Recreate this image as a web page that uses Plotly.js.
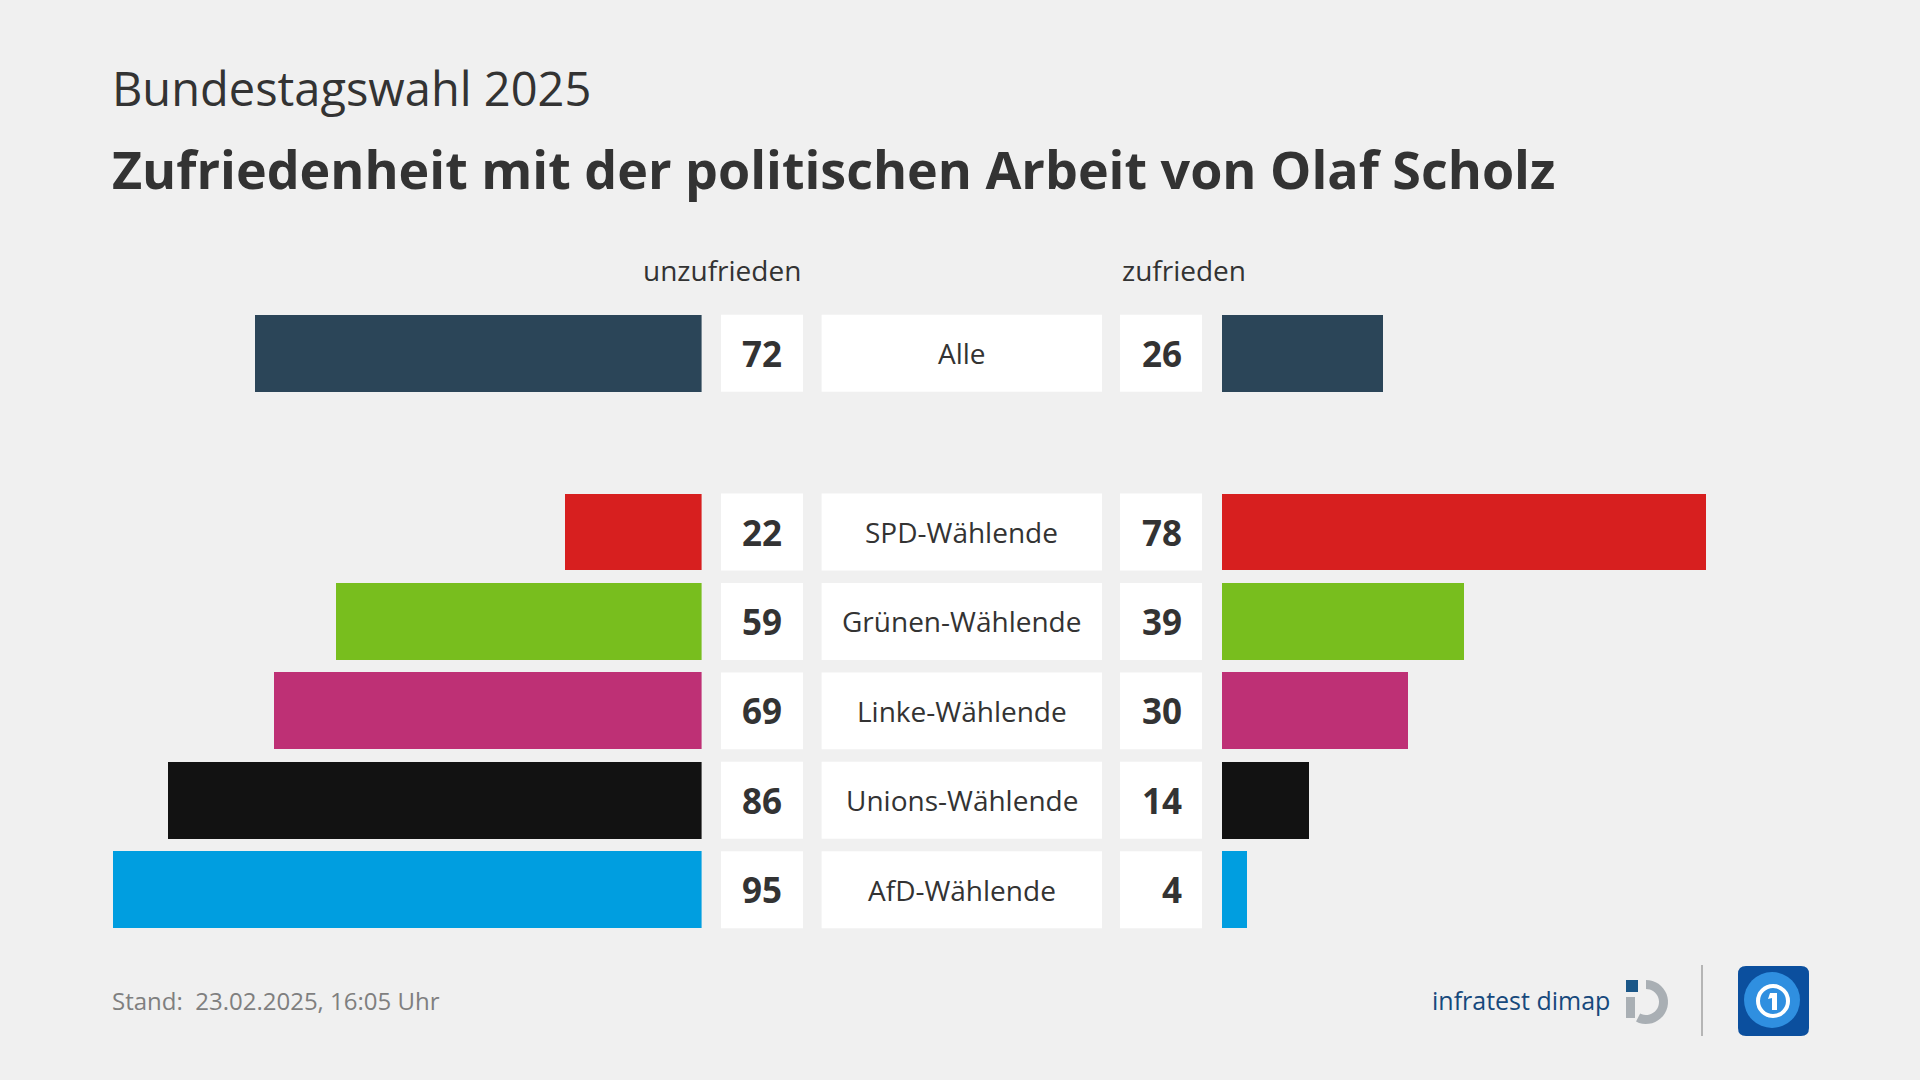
<!DOCTYPE html>
<html>
<head>
<meta charset="utf-8">
<script src="https://cdn.plot.ly/plotly-3.0.1.min.js"></script>
<style>
  html, body { margin: 0; padding: 0; background: #f0f0f0; }
  #chart { width: 1920px; height: 1080px; }
</style>
</head>
<body>
<div id="chart"></div>
<script>
// ---- data ----
const groups = ["Alle", "SPD-Wählende", "Grünen-Wählende", "Linke-Wählende", "Unions-Wählende", "AfD-Wählende"];
const unzufrieden = [72, 22, 59, 69, 86, 95];
const zufrieden = [26, 78, 39, 30, 14, 4];
const groupColors = ["#2b4558", "#d71f1f", "#78be1e", "#be3075", "#121212", "#009ee0"];
const headerLeft = "unzufrieden";
const headerRight = "zufrieden";
const subtitle = "Bundestagswahl 2025";
const title = "Zufriedenheit mit der politischen Arbeit von Olaf Scholz";
const footer = "Stand:  23.02.2025, 16:05 Uhr";
const sourceName = "infratest dimap";

// ---- layout helpers ----
const W = 1920, H = 1080;
const px = v => v / W;           // x pixel -> paper
const py = v => 1 - v / H;       // y pixel -> paper
const FONT = "Open Sans, Noto Sans, sans-serif";
const TXT = "#333333";

// row slots: "Alle" first, then a blank slot, then the parties
const pos = groups.map((g, i) => i === 0 ? 0 : i + 1);
const barW = 0.86;

const traces = [
  {
    type: "bar", orientation: "h",
    x: unzufrieden, y: pos,
    xaxis: "x", yaxis: "y",
    width: barW,
    marker: { color: groupColors, line: { width: 0 } },
    hoverinfo: "skip"
  },
  {
    type: "bar", orientation: "h",
    x: zufrieden, y: pos,
    xaxis: "x2", yaxis: "y",
    width: barW,
    marker: { color: groupColors, line: { width: 0 } },
    hoverinfo: "skip"
  }
];

const shapes = [];
const annotations = [];

// boxes: left value, label, right value
const boxL = [721, 803], boxC = [821.6, 1102], boxR = [1120, 1202];
pos.forEach((p, i) => {
  [boxL, boxC, boxR].forEach(b => {
    shapes.push({
      type: "rect", xref: "paper", yref: "y",
      x0: px(b[0]), x1: px(b[1]), y0: p - barW / 2, y1: p + barW / 2,
      fillcolor: "#ffffff", line: { width: 0 }, layer: "below"
    });
  });
  annotations.push({
    xref: "paper", yref: "y", x: px(784), y: p, xanchor: "right", yanchor: "middle",
    text: "<b>" + unzufrieden[i] + "</b>", showarrow: false,
    font: { family: FONT, size: 35, color: TXT }
  });
  annotations.push({
    xref: "paper", yref: "y", x: px(1184), y: p, xanchor: "right", yanchor: "middle",
    text: "<b>" + zufrieden[i] + "</b>", showarrow: false,
    font: { family: FONT, size: 35, color: TXT }
  });
  annotations.push({
    xref: "paper", yref: "y", x: px((boxC[0] + boxC[1]) / 2), y: p, xanchor: "center", yanchor: "middle",
    text: groups[i], showarrow: false,
    font: { family: FONT, size: 28, color: TXT }
  });
});

// headers
annotations.push({
  xref: "paper", yref: "paper", x: px(803), y: py(270), xanchor: "right", yanchor: "middle",
  text: headerLeft, showarrow: false, font: { family: FONT, size: 28, color: TXT }
});
annotations.push({
  xref: "paper", yref: "paper", x: px(1120), y: py(270), xanchor: "left", yanchor: "middle",
  text: headerRight, showarrow: false, font: { family: FONT, size: 28, color: TXT }
});

// titles
annotations.push({
  xref: "paper", yref: "paper", x: px(110), y: py(88), xanchor: "left", yanchor: "middle",
  text: subtitle, showarrow: false, font: { family: FONT, size: 47, color: TXT }
});
annotations.push({
  xref: "paper", yref: "paper", x: px(110), y: py(168), xanchor: "left", yanchor: "middle",
  text: "<b>" + title + "</b>", showarrow: false, font: { family: FONT, size: 52, color: TXT }
});

// footer
annotations.push({
  xref: "paper", yref: "paper", x: px(110), y: py(1000), xanchor: "left", yanchor: "middle",
  text: footer, showarrow: false, font: { family: FONT, size: 24, color: "#7f7f7f" }
});
annotations.push({
  xref: "paper", yref: "paper", x: px(1612), y: py(1000), xanchor: "right", yanchor: "middle",
  text: sourceName, showarrow: false, font: { family: FONT, size: 25, color: "#17497c" }
});

// infratest dimap icon (square + arc)
shapes.push({ type: "rect", xref: "paper", yref: "paper",
  x0: px(1626), x1: px(1638), y0: py(992), y1: py(980), fillcolor: "#1b5788", line: { width: 0 } });
shapes.push({ type: "rect", xref: "paper", yref: "paper",
  x0: px(1626), x1: px(1635), y0: py(1018), y1: py(997), fillcolor: "#a9afb4", line: { width: 0 } });
shapes.push({ type: "path", xref: "paper", yref: "paper",
  path: (() => {
    const cx = 1646, cy = 1002, r1 = 22, r2 = 13, n = 24;
    let pts = [];
    for (let k = 0; k <= n; k++) {
      const a = -Math.PI / 2 + Math.PI * 1.15 * k / n;
      pts.push([cx + r1 * Math.cos(a), cy + r1 * Math.sin(a)]);
    }
    for (let k = n; k >= 0; k--) {
      const a = -Math.PI / 2 + Math.PI * 1.15 * k / n;
      pts.push([cx + r2 * Math.cos(a), cy + r2 * Math.sin(a)]);
    }
    return "M" + pts.map(p => px(p[0]).toFixed(5) + "," + py(p[1]).toFixed(5)).join(" L") + " Z";
  })(),
  fillcolor: "#a9afb4", line: { width: 0 } });

// separator line
shapes.push({ type: "line", xref: "paper", yref: "paper",
  x0: px(1702), x1: px(1702), y0: py(965), y1: py(1036), line: { color: "#b5b5b5", width: 2 } });

// ARD logo (rounded square + globe + ring)
(() => {
  const x0 = 1738, x1 = 1809, y0 = 966, y1 = 1036, r = 8;
  const p = (x, y) => px(x).toFixed(5) + "," + py(y).toFixed(5);
  const path = "M" + p(x0 + r, y0) + " L" + p(x1 - r, y0) + " Q" + p(x1, y0) + " " + p(x1, y0 + r) +
    " L" + p(x1, y1 - r) + " Q" + p(x1, y1) + " " + p(x1 - r, y1) + " L" + p(x0 + r, y1) +
    " Q" + p(x0, y1) + " " + p(x0, y1 - r) + " L" + p(x0, y0 + r) + " Q" + p(x0, y0) + " " + p(x0 + r, y0) + " Z";
  shapes.push({ type: "path", xref: "paper", yref: "paper", path: path, fillcolor: "#0b4f9e", line: { width: 0 } });
  shapes.push({ type: "circle", xref: "paper", yref: "paper",
    x0: px(1744), x1: px(1800), y0: py(1028), y1: py(972), fillcolor: "#2f8fe0", line: { width: 0 } });
  shapes.push({ type: "circle", xref: "paper", yref: "paper",
    x0: px(1758), x1: px(1788), y0: py(1016), y1: py(986), fillcolor: "rgba(0,0,0,0)", line: { color: "#ffffff", width: 4 } });
  shapes.push({ type: "path", xref: "paper", yref: "paper",
    path: "M" + p(1770, 993) + " L" + p(1777, 993) + " L" + p(1777, 1010) + " L" + p(1772, 1010) + " L" + p(1772, 998) + " L" + p(1768, 999) + " Z",
    fillcolor: "#ffffff", line: { width: 0 } });
})();

const layout = {
  width: W, height: H,
  margin: { l: 0, r: 0, t: 0, b: 0, pad: 0 },
  paper_bgcolor: "#f0f0f0",
  plot_bgcolor: "rgba(0,0,0,0)",
  showlegend: false,
  bargap: 0,
  xaxis: {
    domain: [px(81.6), px(701.6)], range: [100, 0],
    showgrid: false, zeroline: false, showticklabels: false, ticks: "", showline: false, fixedrange: true
  },
  xaxis2: {
    domain: [px(1222), px(1842)], range: [0, 100], anchor: "y",
    showgrid: false, zeroline: false, showticklabels: false, ticks: "", showline: false, fixedrange: true
  },
  yaxis: {
    domain: [py(934.4), py(308.5)], range: [6.5, -0.5],
    showgrid: false, zeroline: false, showticklabels: false, ticks: "", showline: false, fixedrange: true
  },
  shapes: shapes,
  annotations: annotations
};

Plotly.newPlot("chart", traces, layout, { displayModeBar: false, staticPlot: true });
</script>
</body>
</html>
